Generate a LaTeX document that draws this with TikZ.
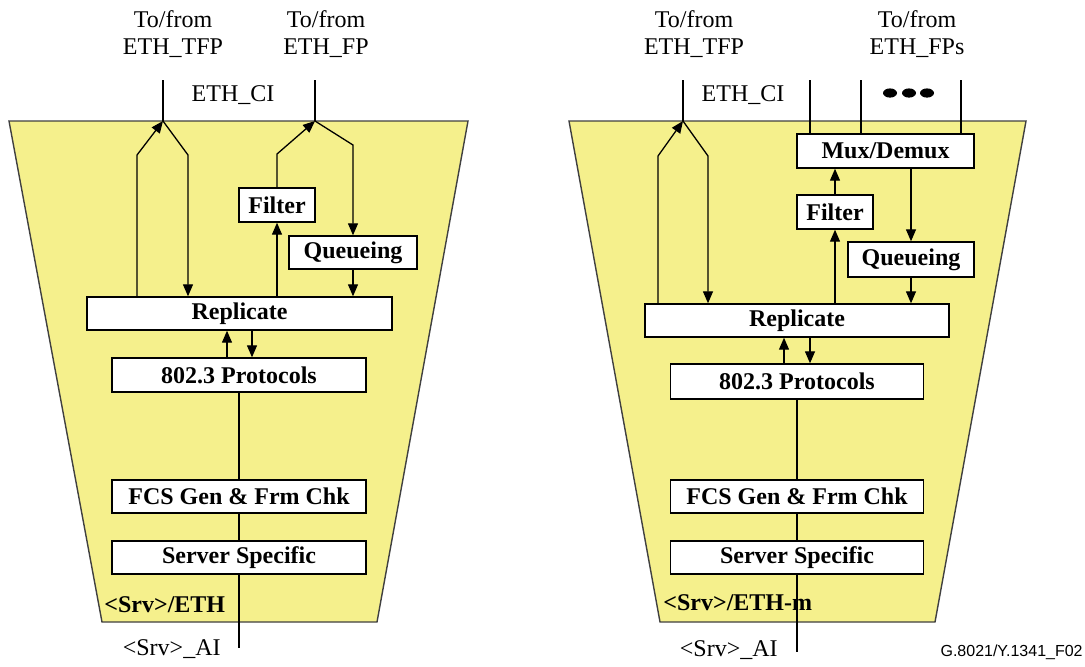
\documentclass[tikz,border=0pt]{standalone}
\usepackage{fontspec}
\setmainfont{Liberation Serif}
\newfontfamily\figfont{Liberation Sans}
\usetikzlibrary{arrows.meta}
\definecolor{fbyellow}{RGB}{245,240,140}
\tikzset {
    >={Triangle[length=6pt,width=5pt]},
    block/.style={draw, fill=white, line width=0.7pt, inner sep=0pt,
        font=\fontsize{12}{14}\selectfont\bfseries,
        minimum width=127pt, minimum height=16.5pt},
    txt/.style={inner sep=0pt, font=\fontsize{12}{13.5}\selectfont, align=center},
    flow/.style={->, line width=0.65pt},
    link/.style={line width=0.7pt},
    port/.style={line width=1pt},
    trap/.style={draw=black!75, fill=fbyellow, line width=0.7pt}
}

\begin{document}
\begin{tikzpicture}[x=0.5pt, y=-0.5pt]
\useasboundingbox (0,0) rectangle (1085,666);

% trapezoids
\draw[trap] (9,121) -- (468,121) -- (377,622) -- (102,622) -- cycle;
\draw[trap] (569,121) -- (1026,121) -- (935,622) -- (660,622) -- cycle;

% ---- <Srv>/ETH ----
\node[txt] (tfpL) at (173,34) {To/from\\ETH\_TFP};
\node[txt] (fpL) at (326,34) {To/from\\ETH\_FP};
\node[txt] (ciL) at (233,95) {ETH\_CI};
\coordinate (tL1) at (163,80);
\coordinate (cL1) at (163,121);
\coordinate (tL2) at (315,80);
\coordinate (cL2) at (315,121);

\node[block, minimum width=152.5pt] (repL) at (239.5,313.5) {Replicate};
\node[block, minimum height=17pt] (protL) at (239,375) {802.3 Protocols};
\node[block] (fcsL) at (239,496.5) {FCS Gen \& Frm Chk};
\node[block] (srvL) at (239,557.5) {Server Specific};
\node[block, minimum width=38pt, minimum height=17pt] (filtL) at (277,205) {Filter};
\node[block, minimum width=64pt] (queL) at (353,252.5) {Queueing};
\node[txt, anchor=west, font=\fontsize{12}{14}\selectfont\bfseries] (nameL) at (104,605) {<Srv>/ETH};
\node[txt, anchor=east] (aiL) at (221,649) {<Srv>\_AI};
\coordinate (endL) at (239,648);

\coordinate (upL) at (137,155);
\coordinate (dnL) at (188,155);
\coordinate (fbL) at (277,154);
\coordinate (qbL) at (353,145);

\draw[port] (tL1) -- (cL1);
\draw[port] (tL2) -- (cL2);
\draw[flow] (upL |- repL.north) -- (upL) -- (cL1);
\draw[flow] (cL1) -- (dnL) -- (dnL |- repL.north);
\draw[flow] (filtL.north) -- (fbL) -- (cL2);
\draw[flow] (cL2) -- (qbL) -- (queL.north);
\draw[flow] (repL.north -| filtL) -- (filtL.south);
\draw[flow] (queL.south) -- (queL.south |- repL.north);
\draw[flow] ([xshift=-6pt]protL.north) -- ([xshift=-6pt]protL.north |- repL.south);
\draw[flow] ([xshift=6.5pt]protL.north |- repL.south) -- ([xshift=6.5pt]protL.north);
\draw[link] (protL) -- (fcsL);
\draw[link] (fcsL) -- (srvL);
\draw[link] (srvL) -- (endL);

% ---- <Srv>/ETH-m ----
\node[txt] (tfpR) at (694,34) {To/from\\ETH\_TFP};
\node[txt] (fpR) at (917,34) {To/from\\ETH\_FPs};
\node[txt] (ciR) at (743,95) {ETH\_CI};
\coordinate (tR1) at (683,80);
\coordinate (cR1) at (683,121);

\node[block, minimum width=152pt] (repR) at (797,320.5) {Replicate};
\node[block, minimum width=126.5pt, minimum height=17.5pt] (protR) at (797,381.5) {802.3 Protocols};
\node[block, minimum width=126.5pt] (fcsR) at (797,496.5) {FCS Gen \& Frm Chk};
\node[block, minimum width=126.5pt] (srvR) at (797,557.5) {Server Specific};
\node[block, minimum width=88.5pt, minimum height=17pt] (muxR) at (885.5,151) {Mux/Demux};
\node[block, minimum width=38pt, minimum height=17pt] (filtR) at (835,212) {Filter};
\node[block, minimum width=63pt, minimum height=17.5pt] (queR) at (911,259.5) {Queueing};
\node[txt, anchor=west, font=\fontsize{12}{14}\selectfont\bfseries] (nameR) at (663,603) {<Srv>/ETH-m};
\node[txt, anchor=east] (aiR) at (778,650) {<Srv>\_AI};
\coordinate (endR) at (797,652);

\coordinate (upR) at (658,156);
\coordinate (dnR) at (708,156);
\foreach \px/\nm in {810/a, 861/b, 961/c}
    \coordinate (tR\nm) at (\px,80);
\foreach \nm in {a, b, c}
    \draw[port] (tR\nm) -- (tR\nm |- muxR.north);
\foreach \px in {890, 909, 927}
    \fill (\px,93) ellipse [x radius=3.5pt, y radius=2.3pt];

\draw[port] (tR1) -- (cR1);
\draw[flow] (upR |- repR.north) -- (upR) -- (cR1);
\draw[flow] (cR1) -- (dnR) -- (dnR |- repR.north);
\draw[flow] (repR.north -| filtR) -- (filtR.south);
\draw[flow] (filtR.north) -- (filtR.north |- muxR.south);
\draw[flow] (queR.north |- muxR.south) -- (queR.north);
\draw[flow] (queR.south) -- (queR.south |- repR.north);
\draw[flow] ([xshift=-6.5pt]protR.north) -- ([xshift=-6.5pt]protR.north |- repR.south);
\draw[flow] ([xshift=6.5pt]protR.north |- repR.south) -- ([xshift=6.5pt]protR.north);
\draw[link] (protR) -- (fcsR);
\draw[link] (fcsR) -- (srvR);
\draw[link] (srvR) -- (endR);

\node[anchor=east, inner sep=0pt, font=\figfont\fontsize{8}{9}\selectfont] (figno) at (1083,652) {G.8021/Y.1341\_F02};
\end{tikzpicture}
\end{document}
